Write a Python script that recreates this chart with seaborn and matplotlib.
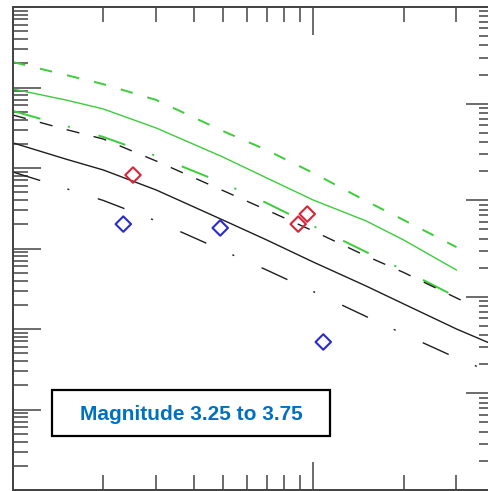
import numpy as np
import pandas as pd
import matplotlib
matplotlib.use("Agg")
import matplotlib.pyplot as plt
import seaborn as sns
from matplotlib.ticker import LogLocator, NullFormatter
from matplotlib.patches import Rectangle

# ---------------- data ----------------
distance = [10, 15, 20, 30, 50, 70, 100, 150, 200, 300]
green_upper = [2.07, 1.43, 1.10, 0.70, 0.288, 0.167, 0.0867, 0.0389, 0.0226, 0.0104]
green_median = [0.957, 0.70, 0.541, 0.314, 0.137, 0.0752, 0.040, 0.0220, 0.01276, 0.0054]
green_lower = [0.511, 0.333, 0.243, 0.141, 0.0652, 0.0367, 0.0190, 0.00906, 0.0054, 0.0025]

dist_dashed = [10, 15, 20, 30, 50, 70, 100, 150, 200, 300, 330]
black_dashed = [0.455, 0.301, 0.229, 0.122, 0.0525, 0.0301, 0.0165, 0.00807, 0.00504, 0.00243, 0.00205]
dist_solid = [10, 15, 20, 30, 50, 70, 100, 150, 200, 300, 400]
black_solid = [0.205, 0.129, 0.0944, 0.0533, 0.0226, 0.01276, 0.00679, 0.00342, 0.00205, 0.0010, 0.000633]
dist_dashdot = [10, 15, 20, 30, 50, 70, 100, 150, 200, 300, 360]
black_dashdot = [0.0891, 0.0556, 0.0395, 0.0220, 0.00944, 0.0054, 0.00292, 0.00143, 0.000867, 0.000436, 0.00033]

red_dist = [25.1, 89.1, 95.5]
red_val = [0.0818, 0.0201, 0.0268]
blue_dist = [23.3, 49.0, 108.0]
blue_val = [0.0201, 0.0180, 0.00069]

label_text = "Magnitude 3.25 to 3.75"

# ---------------- figure ----------------
sns.set_style("white")
plt.rcParams["lines.scale_dashes"] = False
plt.rcParams["font.family"] = ["Liberation Sans", "DejaVu Sans"]

W, H = 489, 491
fig = plt.figure(figsize=(W / 100, H / 100), dpi=100)
L, R, T, B = 13, 494, 7, 490
ax = fig.add_axes([L / W, 1 - B / H, (R - L) / W, (B - T) / H])

GREEN = "#3ccc3c"
BLACK = "#1e1e1e"

def line(x, y, color, lw, ls):
    sns.lineplot(x=x, y=y, ax=ax, color=color, linewidth=lw, linestyle=ls,
                 sort=False, estimator=None)

line(distance, green_upper, GREEN, 1.4, (0, (9, 11)))
line(distance, green_median, GREEN, 1.0, "-")
line(distance, green_lower, GREEN, 1.4, (0, (20.5, 20.5, 1.5, 21.5)))
line(dist_dashed, black_dashed, BLACK, 1.0, (0, (9.5, 10.5)))
line(dist_solid, black_solid, BLACK, 1.0, "-")
line(dist_dashdot, black_dashdot, BLACK, 1.0, (0, (20.5, 20.5, 1.5, 21.5)))

sns.scatterplot(x=red_dist, y=red_val, ax=ax, marker="D", s=62,
                facecolor="none", edgecolor="#d8253a", linewidth=1.5, zorder=5)
sns.scatterplot(x=blue_dist, y=blue_val, ax=ax, marker="D", s=62,
                facecolor="none", edgecolor="#2a2ad0", linewidth=1.5, zorder=5)

ax.set_xscale("log")
ax.set_yscale("log")
ax.set_xlim(10, 400)
ax.set_ylim(1e-5, 10)
ax.set_xlabel("")
ax.set_ylabel("")

ax2 = ax.twinx()
ax2.set_yscale("log")
ax2.set_ylim(1e-4, 10)

TC = "#444444"
for a in (ax, ax2):
    for sp in a.spines.values():
        sp.set_color(TC)
        sp.set_linewidth(1.3)

for axis in (ax.xaxis, ax.yaxis, ax2.yaxis):
    axis.set_major_locator(LogLocator(base=10, numticks=30))
    axis.set_minor_locator(LogLocator(base=10, subs=np.arange(2, 10) * 1.0, numticks=100))
    axis.set_major_formatter(NullFormatter())
    axis.set_minor_formatter(NullFormatter())

ax.tick_params(axis="x", which="both", direction="in", top=True, bottom=True,
               labelbottom=False, labeltop=False, color=TC, width=1.1)
ax.tick_params(axis="y", which="both", direction="in", left=True, right=False,
               labelleft=False, labelright=False, color=TC, width=1.1)
ax2.tick_params(axis="y", which="both", direction="in", left=False, right=True,
                labelleft=False, labelright=False, color=TC, width=1.1)
for a in (ax, ax2):
    a.tick_params(which="major", length=20.5)
    a.tick_params(which="minor", length=10.5)

# annotation box
bx0, bx1 = (52 - L) / (R - L), (330 - L) / (R - L)
by0, by1 = (B - 436) / (B - T), (B - 390) / (B - T)
ax.add_patch(Rectangle((bx0, by0), bx1 - bx0, by1 - by0, transform=ax.transAxes,
                       fill=True, facecolor="white", edgecolor="black",
                       linewidth=1.6, zorder=6))
ax.text((bx0 + bx1) / 2, (B - 414) / (B - T), label_text, transform=ax.transAxes,
        ha="center", va="center", fontsize=15, fontweight="bold",
        color="#0070c0", zorder=7)

fig.savefig("out.png", dpi=100)
